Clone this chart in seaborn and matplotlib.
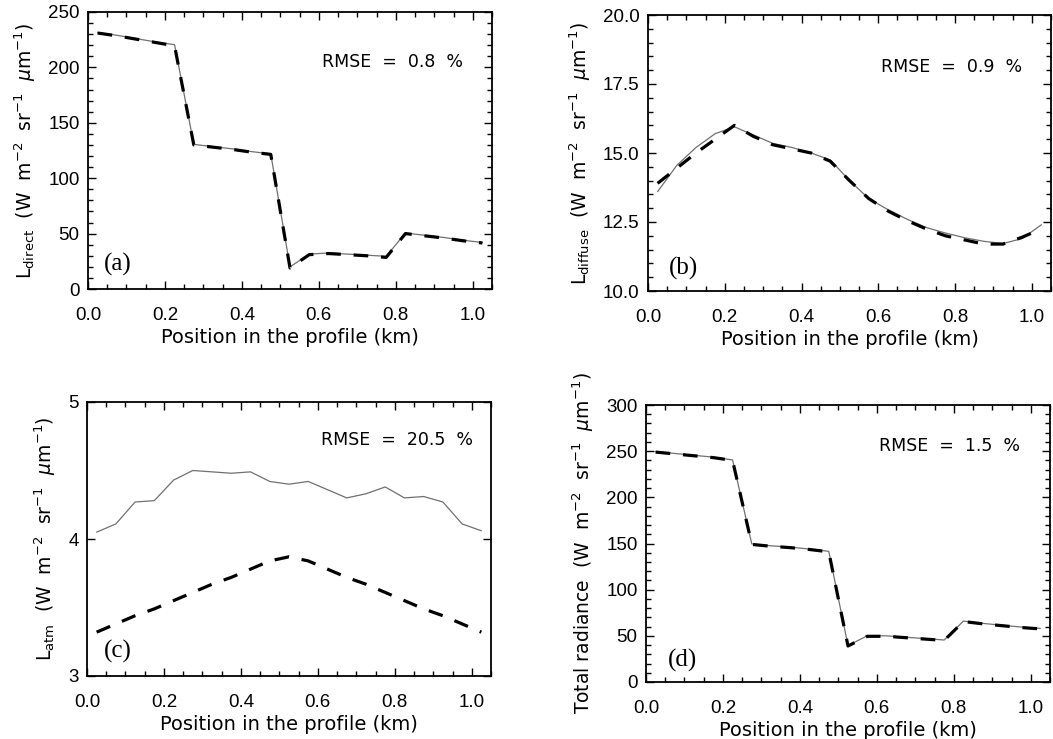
import matplotlib
matplotlib.use("Agg")
import matplotlib.pyplot as plt
import seaborn as sns
import pandas as pd
from matplotlib.ticker import MultipleLocator, FormatStrFormatter

# ---------------- data ----------------
position_km = [0.025, 0.075, 0.125, 0.175, 0.225, 0.275, 0.325, 0.375, 0.425, 0.475,
               0.525, 0.575, 0.625, 0.675, 0.725, 0.775, 0.825, 0.875, 0.925, 0.975, 1.025]

direct_solid = [231.5, 229.0, 226.0, 223.0, 220.5, 130.5, 128.5, 126.5, 124.0, 122.0,
                20.0, 31.5, 32.5, 31.5, 30.5, 29.5, 50.5, 48.5, 46.5, 44.0, 42.0]
direct_dashed = [231.0, 228.5, 225.5, 222.5, 219.5, 130.0, 128.0, 126.0, 123.5, 121.5,
                 19.0, 31.0, 32.0, 31.0, 30.0, 28.5, 50.0, 48.0, 46.0, 43.5, 41.5]

diffuse_solid = [13.6, 14.55, 15.2, 15.7, 15.95, 15.65, 15.35, 15.2, 15.0, 14.75,
                 14.0, 13.35, 12.95, 12.6, 12.3, 12.1, 11.93, 11.8, 11.72, 11.9, 12.4]
diffuse_dashed = [13.9, 14.45, 15.0, 15.5, 16.0, 15.6, 15.3, 15.15, 15.0, 14.7,
                  14.0, 13.35, 12.9, 12.55, 12.25, 12.0, 11.85, 11.7, 11.7, 11.95, 12.25]

atm_solid = [4.05, 4.11, 4.27, 4.28, 4.43, 4.50, 4.49, 4.48, 4.49, 4.42,
             4.40, 4.42, 4.36, 4.30, 4.33, 4.38, 4.30, 4.31, 4.27, 4.11, 4.06]
atm_dashed = [3.32, 3.38, 3.44, 3.49, 3.55, 3.61, 3.67, 3.72, 3.78, 3.84,
              3.87, 3.84, 3.78, 3.72, 3.67, 3.61, 3.55, 3.49, 3.44, 3.38, 3.32]

total_solid = [249.5, 247.5, 245.5, 243.5, 240.5, 149.5, 147.5, 146.0, 144.0, 141.5,
               39.5, 50.0, 50.0, 48.5, 47.0, 45.5, 66.0, 63.5, 61.5, 59.5, 58.0]
total_dashed = [249.0, 247.0, 245.0, 243.0, 240.0, 149.0, 147.0, 145.5, 143.5, 141.0,
                39.0, 49.5, 49.5, 48.0, 46.5, 45.0, 65.5, 63.0, 61.0, 59.0, 57.5]

x_ticks = [0.0, 0.2, 0.4, 0.6, 0.8, 1.0]
rmse_labels = ["RMSE  =  0.8  %", "RMSE  =  0.9  %", "RMSE  =  20.5  %", "RMSE  =  1.5  %"]
panel_letters = ["(a)", "(b)", "(c)", "(d)"]
x_label = "Position in the profile (km)"
units = r"  (W  m$^{-2}$  sr$^{-1}$  $\mu$m$^{-1}$)"
y_labels = [r"L$_{\rm direct}$" + units, r"L$_{\rm diffuse}$" + units,
            r"L$_{\rm atm}$" + units, "Total radiance" + units]

# ---------------- style ----------------
sns.set_theme(style="white")
plt.rcParams["font.family"] = ["DejaVu Sans"]
plt.rcParams["mathtext.fontset"] = "dejavusans"
plt.rcParams["text.color"] = "black"
plt.rcParams["axes.labelcolor"] = "black"
plt.rcParams["xtick.color"] = "black"
plt.rcParams["ytick.color"] = "black"
plt.rcParams["xtick.labelcolor"] = "black"
plt.rcParams["ytick.labelcolor"] = "black"

fig = plt.figure(figsize=(10.53, 7.39), dpi=100)
fig.patch.set_facecolor("white")

W, H = 1053.0, 739.0
boxes = [(88, 12, 404, 277), (648, 15, 403, 276), (87, 402, 404, 274), (646, 405, 404, 277)]
series = [(direct_solid, direct_dashed), (diffuse_solid, diffuse_dashed),
          (atm_solid, atm_dashed), (total_solid, total_dashed)]
ylims = [(0, 250), (10, 20), (3, 5), (0, 300)]
ymajor = [50, 2.5, 1, 50]
yminor = [10, 0.5, None, 10]
yfmt = ["%d", "%.1f", "%d", "%d"]
rmse_pos = [(0.929, 0.818), (0.928, 0.81), (0.955, 0.86), (0.926, 0.852)]
letter_pos = [(0.040, 0.087), (0.052, 0.083), (0.043, 0.088), (0.055, 0.076)]

for i in range(4):
    l, t, w, h = boxes[i]
    ax = fig.add_axes([l / W, 1 - (t + h) / H, w / W, h / H])
    solid, dashed = series[i]
    df = pd.DataFrame({"x": position_km, "solid": solid, "dashed": dashed})
    sns.lineplot(data=df, x="x", y="solid", ax=ax, color="#707070", linewidth=0.9)
    sns.lineplot(data=df, x="x", y="dashed", ax=ax, color="black", linewidth=2.3,
                 linestyle=(0, (4.6, 4.0)))
    ax.set_xlim(0, 1.05)
    ax.set_ylim(*ylims[i])
    ax.set_xticks(x_ticks)
    ax.xaxis.set_minor_locator(MultipleLocator(0.05))
    ax.xaxis.set_major_formatter(FormatStrFormatter("%.1f"))
    ax.yaxis.set_major_locator(MultipleLocator(ymajor[i]))
    if yminor[i] is not None:
        ax.yaxis.set_minor_locator(MultipleLocator(yminor[i]))
    ax.yaxis.set_major_formatter(FormatStrFormatter(yfmt[i]))
    ax.tick_params(which="both", direction="in", top=True, right=True,
                   bottom=True, left=True, color="black", labelcolor="black", width=1.0)
    ax.tick_params(which="major", length=6)
    ax.tick_params(which="minor", length=3.5)
    ax.tick_params(axis="x", which="major", labelsize=13.5, pad=13)
    ax.tick_params(axis="y", which="major", labelsize=13.5, pad=6)
    for lab in ax.get_xticklabels() + ax.get_yticklabels():
        lab.set_fontfamily("Liberation Sans")
    for sp in ax.spines.values():
        sp.set_color("black")
        sp.set_linewidth(1.3)
    ax.set_xlabel(x_label, fontsize=14, labelpad=3, color="black")
    ax.set_ylabel(y_labels[i], fontsize=13.5, labelpad=7, color="black")
    ax.text(rmse_pos[i][0], rmse_pos[i][1], rmse_labels[i], transform=ax.transAxes,
            ha="right", va="center", fontsize=12.5, color="black")
    ax.text(letter_pos[i][0], letter_pos[i][1], panel_letters[i], transform=ax.transAxes,
            ha="left", va="center", fontsize=18, family="Liberation Serif", color="black")
    ax.set_facecolor("white")

fig.savefig("out.png", dpi=100, facecolor="white")
